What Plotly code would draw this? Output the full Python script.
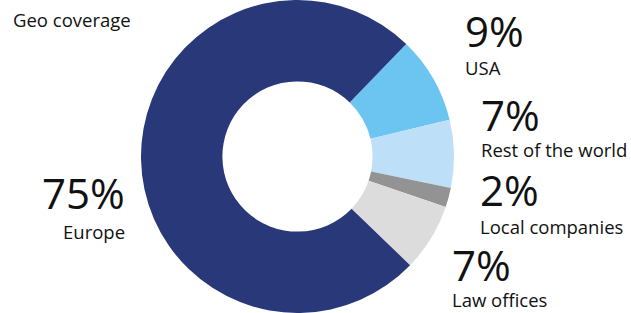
import plotly.graph_objects as go

categories = ["USA", "Rest of the world", "Local companies", "Law offices", "Europe"]
values = [9, 7, 2, 7, 75]
pct_labels = ["9%", "7%", "2%", "7%", "75%"]
colors = ["#6cc5f0", "#bde0f8", "#939393", "#dcdcdc", "#283878"]

W, H = 631, 313
FONT = "Open Sans"

fig = go.Figure(go.Pie(
    labels=categories,
    values=values,
    hole=0.48,
    sort=False,
    direction="clockwise",
    rotation=44,
    marker=dict(colors=colors, line=dict(width=0)),
    textinfo="none",
    hoverinfo="label+percent",
    showlegend=False,
    domain=dict(x=[139 / W, 456 / W], y=[0, 1]),
))

# label positions (pixels): (x, y of big number center, y of name center, anchor)
label_pos = [
    (463, 32, 67, "left"),
    (479, 115, 149, "left"),
    (478, 190, 226, "left"),
    (450, 265, 299, "left"),
    (127, 193, 231, "right"),
]

ann = []
for (px, py_big, py_name, anchor), pct, name in zip(label_pos, pct_labels, categories):
    ann.append(dict(x=px / W, y=1 - (py_big - 1) / H, xref="paper", yref="paper",
                    text=pct, showarrow=False, xanchor=anchor, yanchor="middle",
                    font=dict(family=FONT, size=42, color="#111111")))
    ann.append(dict(x=px / W, y=1 - py_name / H, xref="paper", yref="paper",
                    text=name, showarrow=False, xanchor=anchor, yanchor="middle",
                    font=dict(family=FONT, size=18.5, color="#111111")))

ann.append(dict(x=11 / W, y=1 - 20 / H, xref="paper", yref="paper",
                text="Geo coverage", showarrow=False, xanchor="left", yanchor="middle",
                font=dict(family=FONT, size=18.5, color="#111111")))

fig.update_layout(
    width=W, height=H,
    margin=dict(l=0, r=0, t=0, b=0),
    paper_bgcolor="white",
    plot_bgcolor="white",
    annotations=ann,
)

fig.write_html("out.html", config={"displayModeBar": False},
               post_script="document.body.style.margin='0';")
